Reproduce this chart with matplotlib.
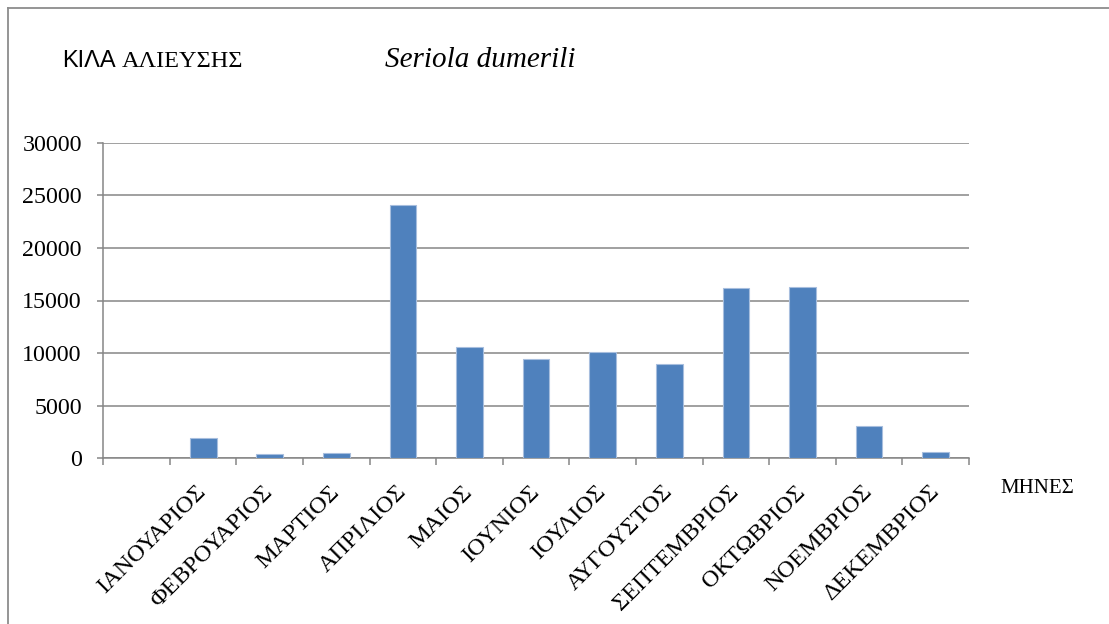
import matplotlib
matplotlib.use("Agg")
import matplotlib.pyplot as plt
from matplotlib.lines import Line2D
import numpy as np

months = ["", "ΙΑΝΟΥΑΡΙΟΣ", "ΦΕΒΡΟΥΑΡΙΟΣ", "ΜΑΡΤΙΟΣ", "ΑΠΡΙΛΙΟΣ", "ΜΑΙΟΣ", "ΙΟΥΝΙΟΣ",
          "ΙΟΥΛΙΟΣ", "ΑΥΓΟΥΣΤΟΣ", "ΣΕΠΤΕΜΒΡΙΟΣ", "ΟΚΤΩΒΡΙΟΣ", "ΝΟΕΜΒΡΙΟΣ", "ΔΕΚΕΜΒΡΙΟΣ"]
kilos = [np.nan, 1900, 420, 520, 24100, 10570, 9460, 10120, 8960, 16200, 16240, 3070, 570]
yticks = [0, 5000, 10000, 15000, 20000, 25000, 30000]

W, H = 1109, 624
fig = plt.figure(figsize=(W / 100, H / 100), dpi=100)
serif = ["Liberation Serif", "DejaVu Serif"]

ax = fig.add_axes([103.3 / W, 1 - 458.3 / H, (969 - 103.3) / W, (458.3 - 142.7) / H])
x = np.arange(len(months))
ax.bar(x, kilos, width=0.4, color="#4F81BD", edgecolor="#A7BEDE", linewidth=0.8, zorder=3)

grid_c = "#868686"
ax.set_xlim(-0.5, len(months) - 0.5)
ax.set_ylim(0, 30000)
ax.set_yticks(yticks)
ax.set_yticklabels([str(v) for v in yticks], fontfamily=serif, fontsize=17.3)
ax.yaxis.grid(True, color=grid_c, linewidth=1.1, zorder=0)
ax.tick_params(axis="y", direction="out", length=4.5, width=1.1, color=grid_c, pad=11)

ax.set_xticks(x)
ax.set_xticklabels(months, rotation=45, ha="right", va="center", rotation_mode="anchor",
                   fontfamily=serif, fontsize=17.5)
ax.tick_params(axis="x", which="major", length=0, pad=22)
ax.set_xticks(np.arange(-0.5, len(months)), minor=True)
ax.tick_params(axis="x", which="minor", direction="out", length=5, width=1.1, color=grid_c)

for s in ["top", "right"]:
    ax.spines[s].set_visible(False)
for s in ["left", "bottom"]:
    ax.spines[s].set_color(grid_c)
    ax.spines[s].set_linewidth(1.1)

# titles
fig.text(62 / W, 1 - 66.7 / H, "ΚΙΛΑ", fontfamily=["Liberation Sans", "DejaVu Sans"],
         fontsize=17, va="baseline", ha="left")
fig.text(121.7 / W, 1 - 66.7 / H, "ΑΛΙΕΥΣΗΣ", fontfamily=serif, fontsize=17.5,
         va="baseline", ha="left")
fig.text(385 / W, 1 - 67.3 / H, "Seriola dumerili", fontfamily=serif, fontstyle="italic",
         fontsize=21, va="baseline", ha="left")
fig.text(1000.7 / W, 1 - 493.3 / H, "ΜΗΝΕΣ", fontfamily=serif, fontsize=15,
         va="baseline", ha="left")

# outer frame (left and top edges visible)
fig.add_artist(Line2D([8 / W, 8 / W], [0, 1 - 8 / H], color="#8C8C8C", linewidth=1.3,
                      transform=fig.transFigure))
fig.add_artist(Line2D([8 / W, 1], [1 - 8 / H, 1 - 8 / H], color="#8C8C8C", linewidth=1.3,
                      transform=fig.transFigure))

fig.savefig("out.png", dpi=100)
